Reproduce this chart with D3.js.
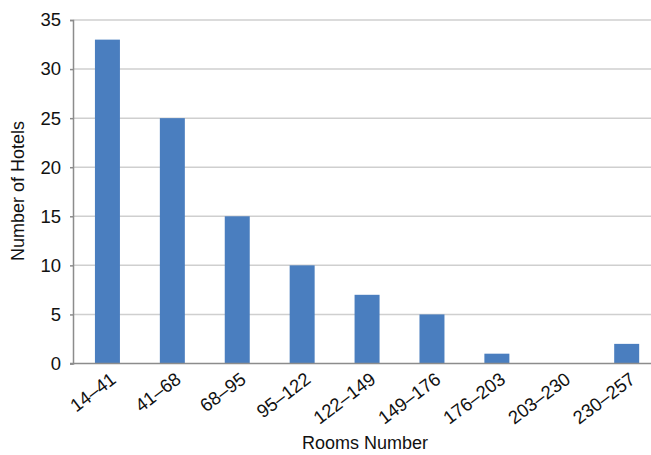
<!DOCTYPE html>
<html><head><meta charset="utf-8">
<script src="https://cdn.jsdelivr.net/npm/d3@7"></script>
<style>body{margin:0;background:#fff}svg{display:block}text{font-family:"Liberation Sans",Arial,sans-serif;fill:#111}</style>
</head><body>
<svg id="c" width="651" height="455"></svg>
<script>
const categories = ["14–41","41–68","68–95","95–122","122–149","149–176","176–203","203–230","230–257"];
const hotels = [33,25,15,10,7,5,1,0,2];
const yTicks = [0,5,10,15,20,25,30,35];

const svg = d3.select("#c");
const W = 651, L = 73, T = 20, B = 363.5;
const x = d3.scaleBand().domain(categories).range([L, W]).paddingInner(0.615).paddingOuter(0.26).align(0.65);
const y = d3.scaleLinear().domain([0,35]).range([B, T]);

// gridlines
svg.append("g").selectAll("line").data(yTicks.filter(d=>d>0)).join("line")
  .attr("x1", L).attr("x2", W).attr("y1", d=>y(d)).attr("y2", d=>y(d))
  .attr("stroke", "#cfcfcf").attr("stroke-width", 1.5);

// bars
svg.append("g").selectAll("rect").data(hotels).join("rect")
  .attr("x", (d,i)=>x(categories[i])).attr("width", x.bandwidth())
  .attr("y", d=>y(d)).attr("height", d=>B - y(d))
  .attr("fill", "#4a7ebf");

// y axis
const ya = svg.append("g").attr("transform", `translate(${L},0)`)
  .call(d3.axisLeft(y).tickValues(yTicks).tickSize(3).tickPadding(9));
ya.select(".domain").attr("stroke", "#8c8c8c").attr("stroke-width", 1.5);
ya.selectAll(".tick line").attr("stroke", "#8c8c8c").attr("stroke-width", 1.5);
ya.selectAll(".tick text").attr("font-size", 18.5).attr("font-family", "Liberation Sans, Arial, sans-serif").attr("fill", "#111");

// x axis
const xa = svg.append("g").attr("transform", `translate(0,${B})`)
  .call(d3.axisBottom(x).tickSize(0).tickPadding(0).tickSizeOuter(0));
xa.select(".domain").attr("stroke", "#8c8c8c").attr("stroke-width", 1.5).attr("d", `M${L-3},0H${W}`);
xa.selectAll(".tick text")
  .attr("font-size", 18.5).attr("font-family", "Liberation Sans, Arial, sans-serif").attr("fill", "#111")
  .attr("text-anchor", "end").attr("dy", "0.35em")
  .attr("transform", "translate(6,13) rotate(-37)");

// axis titles
svg.append("text").attr("x", 365).attr("y", 449).attr("text-anchor", "middle")
  .attr("font-size", 18).text("Rooms Number");
svg.append("text").attr("transform", "translate(24,191) rotate(-90)").attr("text-anchor", "middle")
  .attr("font-size", 18).text("Number of Hotels");
</script>
</body></html>
